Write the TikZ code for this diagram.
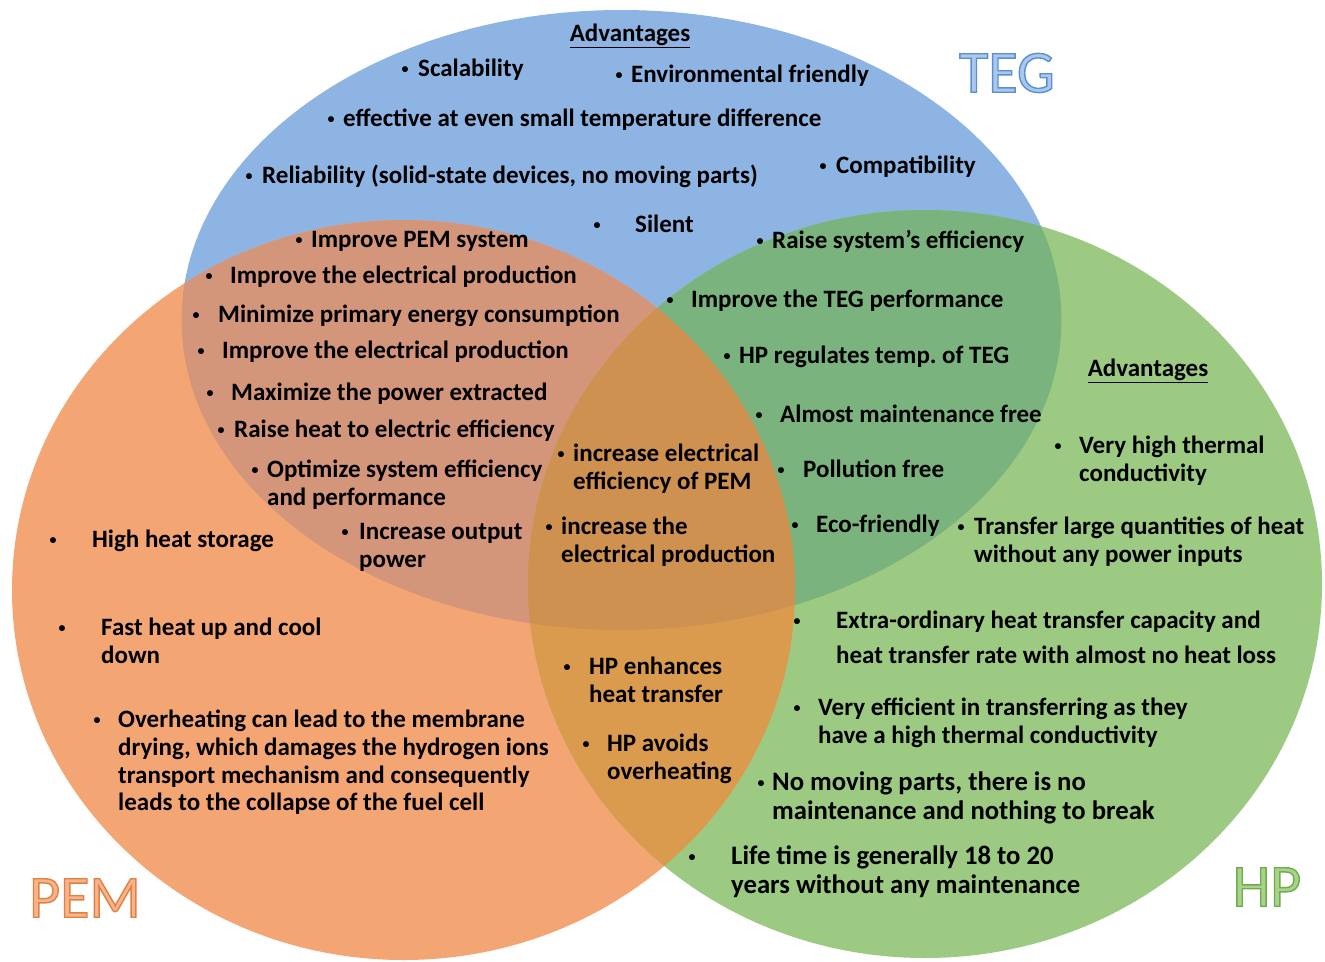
\documentclass[tikz,border=0pt]{standalone}
\usepackage{fontspec}
\setmainfont{Carlito}
\usepackage{tikz}
\frenchspacing

\definecolor{tegfill}{HTML}{8DB4E3}
\definecolor{pemfill}{HTML}{F3A674}
\definecolor{hpfill}{HTML}{9DCA82}
\definecolor{tpfill}{HTML}{D4967A}
\definecolor{thfill}{HTML}{7BB37F}
\definecolor{phfill}{HTML}{DB9B4E}
\definecolor{allfill}{HTML}{CF914F}
\definecolor{tegtext}{HTML}{A9C8EC}
\definecolor{pemtext}{HTML}{F6B48A}
\definecolor{hptext}{HTML}{A8D38C}

% small bullet hung to the left of the text start
\newcommand{\bu}[1]{\llap{\makebox[0pt]{\raisebox{3pt}{\fontsize{14}{14}\selectfont\textbullet}}\hspace{#1pt}}}
% outlined title text: #1 = stroke colour as PDF rgb
\newcommand{\outl}[2]{\special{pdf:code 2 Tr 1.4 w #1 RG}#2\special{pdf:code 0 Tr}}
\newcommand{\tegshape}{(tegO) ellipse [x radius=440, y radius=310]}
\newcommand{\pemshape}{(pemO) ellipse [x radius=391.5, y radius=370]}
\newcommand{\hpshape}{(hpO) ellipse [x radius=397, y radius=374]}

\begin{document}
\begin{tikzpicture}[
  x=1pt, y=-1pt,
  item/.style={anchor=west, align=left, inner sep=0pt, font=\bfseries\fontsize{25}{27.7}\selectfont},
  bigitem/.style={item, font=\bfseries\fontsize{26.7}{29}\selectfont},
  head/.style={item, anchor=center},
  title/.style={anchor=center, inner sep=0pt, font=\fontsize{60}{60}\selectfont}
]
\useasboundingbox (0,0) rectangle (1325,961);
\coordinate (tegO) at (621.5,320);
\coordinate (pemO) at (403.5,590);
\coordinate (hpO) at (925,584);

% circles and overlaps
\fill[tegfill] \tegshape;
\fill[pemfill] \pemshape;
\fill[hpfill] \hpshape;
\begin{scope}
  \clip \tegshape;
  \fill[tpfill] \pemshape;
  \fill[thfill] \hpshape;
\end{scope}
\begin{scope}
  \clip \pemshape;
  \fill[phfill] \hpshape;
  \clip \tegshape;
  \fill[allfill] \hpshape;
\end{scope}

% titles
\node[title, text=tegtext] (tegT) at (1007,73) {\outl{0.36 0.56 0.81}{TEG}};
\node[title, text=pemtext] (pemT) at (85,898) {\outl{0.88 0.50 0.27}{PEM}};
\node[title, text=hptext] (hpT) at (1267,887) {\outl{0.44 0.67 0.30}{HP}};

% TEG
\node[head] (advT) at (630,36) {\underline{Advantages}};
\node[item] (scal) at (418,70) {\bu{13}Scalability};
\node[item] (envi) at (631,76) {\bu{12}Environmental friendly};
\node[item] (effe) at (343,120) {\bu{12}effective at even small temperature difference};
\node[item] (reli) at (262,176) {\bu{13}Reliability (solid-state devices, no moving parts)};
\node[item] (comp) at (836,167) {\bu{13}Compatibility};
\node[item] (sile) at (635,224) {\bu{38}Silent};

% TEG and PEM
\node[item] (impPEM) at (311,241) {\bu{12}Improve PEM system};
\node[item] (elec1) at (230,277) {\bu{21}Improve the electrical production};
\node[item] (mini) at (218,316) {\bu{22}Minimize primary energy consumption};
\node[item] (elec2) at (222,352) {\bu{21}Improve the electrical production};
\node[item] (maxi) at (231,394) {\bu{21}Maximize the power extracted};
\node[item] (rais) at (234,431) {\bu{13}Raise heat to electric efficiency};
\node[item] (opti) at (267,484.5) {\bu{12}Optimize system efficiency\\and performance};
\node[item] (outp) at (359,547.5) {\bu{14}Increase output\\power};

% all three
\node[item] (effPEM) at (573,468.5) {\bu{12}increase electrical\\efficiency of PEM};
\node[item] (prod) at (561,541.5) {\bu{12}increase the\\electrical production};

% PEM
\node[item] (stor) at (92,541) {\bu{39}High heat storage};
\node[item] (fast) at (101,640.5) {\bu{39}Fast heat up and cool\\down};
\node[item] (over) at (118,762.5) {\bu{21}Overheating can lead to the membrane\\drying, which damages the hydrogen ions\\transport mechanism and consequently\\leads to the collapse of the fuel cell};

% PEM and HP
\node[item] (enha) at (589,679.5) {\bu{22}HP enhances\\heat transfer};
\node[item] (avoi) at (607,759) {\bu{21}HP avoids\\overheating};

% TEG and HP
\node[item] (sysE) at (772,241) {\bu{12}Raise system’s efficiency};
\node[item] (tegP) at (691,301) {\bu{21}Improve the TEG performance};
\node[item] (regu) at (739,357) {\bu{12}HP regulates temp. of TEG};
\node[item] (mfree) at (780,414) {\bu{21}Almost maintenance free};
\node[item] (poll) at (803,469) {\bu{22}Pollution free};
\node[item] (ecof) at (816,526) {\bu{21}Eco-friendly};

% HP
\node[head] (advH) at (1148,371) {\underline{Advantages}};
\node[item] (cond) at (1079,461) {\bu{21}Very high thermal\\conductivity};
\node[item] (tran) at (974,542) {\bu{13}Transfer large quantities of heat\\without any power inputs};
\node[item] (capa) at (836,637.5) {\bu{39}Extra-ordinary heat transfer capacity and\\[7pt]heat transfer rate with almost no heat loss};
\node[item] (effi) at (818,722.5) {\bu{21}Very efficient in transferring as they\\have a high thermal conductivity};
\node[bigitem] (movi) at (772,798) {\bu{11}No moving parts, there is no\\maintenance and nothing to break};
\node[bigitem] (life) at (731,871.5) {\bu{39}Life time is generally 18 to 20\\years without any maintenance};
\end{tikzpicture}
\end{document}
